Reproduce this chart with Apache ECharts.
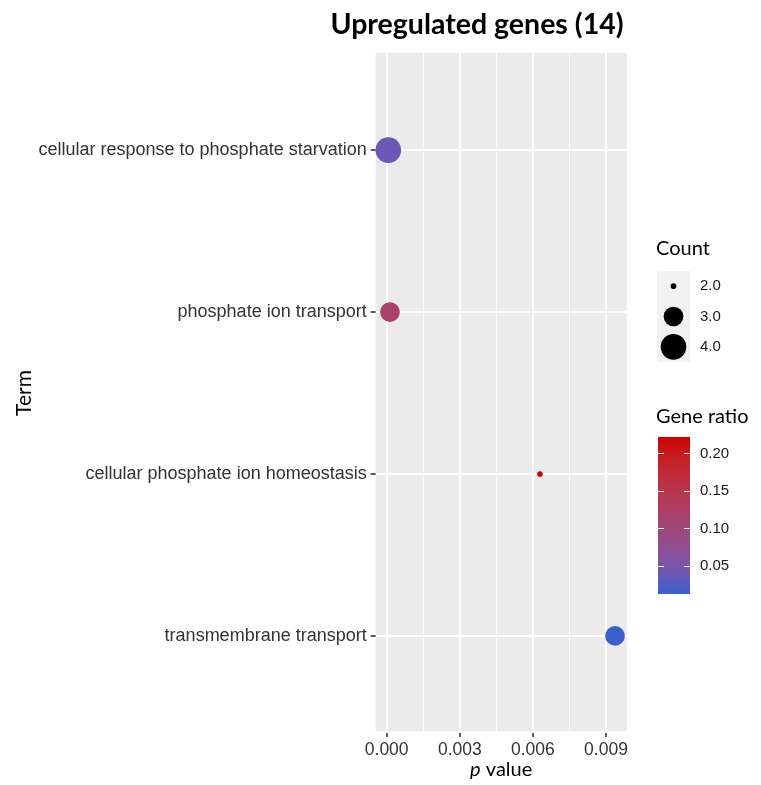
<!DOCTYPE html>
<html>
<head>
<meta charset="utf-8">
<script src="https://cdn.jsdelivr.net/npm/echarts@6/dist/echarts.min.js"></script>
<style>
  html, body { margin: 0; padding: 0; background: #ffffff; }
  #chart { width: 761px; height: 785px; }
</style>
</head>
<body>
<div id="chart"></div>
<script>
// Enriched GO terms (bottom to top on the y axis)
const terms = [
  'transmembrane transport',
  'cellular phosphate ion homeostasis',
  'phosphate ion transport',
  'cellular response to phosphate starvation'
];
const pValues   = [0.00937, 0.00629, 0.000135, 0.000066];
const geneCounts = [3, 2, 3, 4];
const geneRatios = [0.0127, 0.2222, 0.117, 0.039];

// Axis / legend ticks
const pTicks      = [0, 0.003, 0.006, 0.009];
const countLevels = [2, 3, 4];
const countLabels = ['2.0', '3.0', '4.0'];
const ratioTicks  = [0.05, 0.10, 0.15, 0.20];

// Gradient royalblue3 -> red3, sampled evenly in CIELAB
const gradientColors = ['#3a5fcd', '#6b58b4', '#86519b', '#9a4a82', '#a8416b',
                        '#b43853', '#be2d3b', '#c61e23', '#cd0000'];

// ---- layout ----
const W = 761, H = 785;
const PANEL = { left: 375.7, right: 626.7, top: 53, bottom: 733 };
const X_DOMAIN = [-0.000451, 0.00985];           // panel x range incl. expansion
const pxPerUnit = (PANEL.right - PANEL.left) / (X_DOMAIN[1] - X_DOMAIN[0]);
const xPx = v => PANEL.left + (v - X_DOMAIN[0]) * pxPerUnit;
// discrete y expansion: 0.6 of a category step on each side
const nTerms = terms.length;
const step = (PANEL.bottom - PANEL.top) / (nTerms - 1 + 1.2);
const catTop = PANEL.top + 0.6 * step;
const catBottom = PANEL.bottom - 0.6 * step;

const ratioMin = Math.min(...geneRatios);
const ratioMax = Math.max(...geneRatios);
const cMin = Math.min(...countLevels), cMax = Math.max(...countLevels);

// area-proportional point size, like scale_size(range = c(1, 6))
function dotSize(c) {
  const s = 1 + 5 * Math.sqrt((c - cMin) / (cMax - cMin));
  return 4 * s + 1.6;
}

const TICK_FONT = 'Liberation Sans, Arial, sans-serif';
const TITLE_FONT = 'Lato, Open Sans, sans-serif';

const chart = echarts.init(document.getElementById('chart'));

const option = {
  animation: false,
  backgroundColor: '#ffffff',
  grid: [
    // 0: panel background
    { show: true, left: PANEL.left, right: W - PANEL.right, top: PANEL.top, bottom: H - PANEL.bottom,
      backgroundColor: '#ebebeb', borderWidth: 0 },
    // 1: x scale with vertical grid lines (major + minor)
    { left: xPx(pTicks[0]), right: W - xPx(pTicks[pTicks.length - 1]), top: PANEL.top, bottom: H - PANEL.bottom },
    // 2: data grid, term categories with horizontal lines
    { left: PANEL.left, right: W - PANEL.right, top: catTop, bottom: H - catBottom },
    // 3: colour bar
    { show: true, left: 658, top: 437, width: 32, height: 157, borderWidth: 0,
      backgroundColor: {
        type: 'linear', x: 0, y: 1, x2: 0, y2: 0,
        colorStops: gradientColors.map((c, i) => ({ offset: i / (gradientColors.length - 1), color: c }))
      } },
    // 4: size legend keys
    { show: true, left: 657, top: 271, width: 33, height: 91, backgroundColor: '#f2f2f2', borderWidth: 0 }
  ],
  xAxis: [
    { gridIndex: 0, type: 'value', min: X_DOMAIN[0], max: X_DOMAIN[1],
      axisLine: { show: false, onZero: false }, axisTick: { show: false }, axisLabel: { show: false }, splitLine: { show: false },
      name: '{i|p} value', nameLocation: 'middle', nameGap: 29,
      nameTextStyle: { fontSize: 20, fontFamily: TITLE_FONT, color: '#000',
        rich: { i: { fontStyle: 'italic', fontSize: 20, fontFamily: TITLE_FONT, color: '#000' } } } },
    { gridIndex: 1, type: 'value', min: pTicks[0], max: pTicks[pTicks.length - 1], interval: pTicks[1] - pTicks[0],
      axisLine: { show: false, onZero: false },
      axisTick: { show: true, length: 4, lineStyle: { color: '#333', width: 1.6 } },
      axisLabel: { fontSize: 17.5, fontFamily: TICK_FONT, color: '#333', margin: 8,
        formatter: v => v.toFixed(3) },
      splitLine: { show: true, lineStyle: { color: '#ffffff', width: 1.8 } },
      minorTick: { show: false, splitNumber: 2 },
      minorSplitLine: { show: true, lineStyle: { color: '#ffffff', width: 0.9 } } },
    { gridIndex: 2, type: 'value', min: X_DOMAIN[0], max: X_DOMAIN[1], show: false },
    { gridIndex: 3, type: 'value', min: 0, max: 1, show: false },
    { gridIndex: 4, type: 'value', min: -1, max: 1, show: false }
  ],
  yAxis: [
    { gridIndex: 0, type: 'value', show: false },
    { gridIndex: 1, type: 'value', show: false },
    { gridIndex: 2, type: 'category', data: terms, boundaryGap: false,
      axisLine: { show: false, onZero: false },
      axisTick: { show: true, length: 5, lineStyle: { color: '#333', width: 1.6 } },
      axisLabel: { fontSize: 18, fontFamily: TICK_FONT, color: '#333', margin: 9 },
      splitLine: { show: true, lineStyle: { color: '#ffffff', width: 1.8 } },
      name: 'Term', nameLocation: 'middle', nameRotate: 90, nameGap: 335,
      nameTextStyle: { fontSize: 21, fontFamily: TITLE_FONT, color: '#000' } },
    // colour bar: white ticks on both edges, labels on the right
    { gridIndex: 3, type: 'value', min: ratioMin, max: ratioMax, position: 'left',
      axisLine: { show: false, onZero: false }, splitLine: { show: false },
      axisTick: { show: true, inside: true, length: 6, customValues: ratioTicks, lineStyle: { color: '#ffffff', width: 1 } },
      axisLabel: { show: false } },
    { gridIndex: 3, type: 'value', min: ratioMin, max: ratioMax, position: 'right',
      axisLine: { show: false, onZero: false }, splitLine: { show: false },
      axisTick: { show: true, inside: true, length: 6, customValues: ratioTicks, lineStyle: { color: '#ffffff', width: 1 } },
      axisLabel: { show: true, customValues: ratioTicks, margin: 10, fontSize: 15, fontFamily: TICK_FONT, color: '#1a1a1a',
        formatter: v => v.toFixed(2) } },
    // size legend labels
    { gridIndex: 4, type: 'category', data: countLabels, inverse: true, position: 'right',
      axisLine: { show: false, onZero: false }, axisTick: { show: false }, splitLine: { show: false },
      axisLabel: { margin: 10, fontSize: 15, fontFamily: TICK_FONT, color: '#1a1a1a' } }
  ],
  visualMap: {
    show: false, type: 'continuous', seriesIndex: 0, dimension: 2,
    min: ratioMin, max: ratioMax,
    inRange: { color: gradientColors }
  },
  series: [
    {
      type: 'scatter', xAxisIndex: 2, yAxisIndex: 2, z: 5,
      data: terms.map((t, i) => [pValues[i], t, geneRatios[i], geneCounts[i]]),
      symbol: 'circle',
      symbolSize: v => dotSize(v[3]),
      itemStyle: { opacity: 1 }
    },
    {
      type: 'scatter', xAxisIndex: 4, yAxisIndex: 5, z: 5,
      data: countLevels.map((c, i) => [0, countLabels[i], c]),
      symbol: 'circle',
      symbolSize: v => dotSize(v[2]),
      itemStyle: { color: '#000000', opacity: 1 }
    }
  ],
  graphic: [
    { type: 'text', x: 477, y: 25,
      style: { text: 'Upregulated genes (14)', fontSize: 28.5, fontWeight: 'bold', fontFamily: TITLE_FONT,
        fill: '#000', align: 'center', verticalAlign: 'middle' } },
    { type: 'text', x: 656, y: 249,
      style: { text: 'Count', fontSize: 20, fontFamily: TITLE_FONT, fill: '#000', align: 'left', verticalAlign: 'middle' } },
    { type: 'text', x: 656, y: 417,
      style: { text: 'Gene ratio', fontSize: 20, fontFamily: TITLE_FONT, fill: '#000', align: 'left', verticalAlign: 'middle' } }
  ]
};

chart.setOption(option);
</script>
</body>
</html>
